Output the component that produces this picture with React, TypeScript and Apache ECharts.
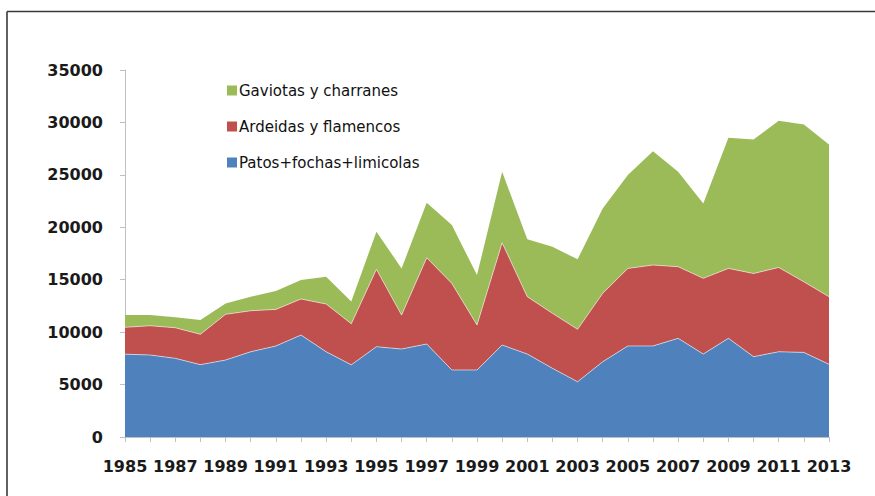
import React, { useEffect, useRef } from "react";
import * as echarts from "echarts";

const years: string[] = [];
for (let y = 1985; y <= 2013; y++) years.push(String(y));

const patos = [7900, 7820, 7500, 6900, 7340, 8130, 8680, 9720, 8130, 6880, 8610, 8390, 8870, 6390, 6390, 8770, 7910, 6550, 5270, 7180, 8680, 8680, 9410, 7910, 9410, 7660, 8130, 8070, 6930];
const ardeidas = [2560, 2790, 2920, 2890, 4360, 3910, 3490, 3440, 4550, 3920, 7380, 3240, 8220, 8260, 4290, 9750, 5470, 5240, 5000, 6520, 7400, 7720, 6830, 7220, 6670, 7930, 8040, 6730, 6450];
const gaviotas = [1170, 1020, 990, 1360, 1040, 1340, 1750, 1810, 2600, 2130, 3590, 4450, 5250, 5560, 4760, 6770, 5470, 6360, 6670, 8100, 8900, 10860, 9050, 7140, 12450, 12780, 13980, 15000, 14520];

const seriesNames = ["Patos+fochas+limicolas", "Ardeidas y flamencos", "Gaviotas y charranes"];
const colors = ["#4F81BD", "#C0504D", "#9BBB59"];

export default function App() {
  const ref = useRef<HTMLDivElement>(null);
  useEffect(() => {
    if (!ref.current) return;
    const chart = echarts.init(ref.current, undefined, { renderer: "svg" });
    const values = [patos, ardeidas, gaviotas];
    chart.setOption({
      animation: false,
      backgroundColor: "#ffffff",
      grid: { left: 125, right: 46, top: 70, bottom: 59, containLabel: false },
      legend: {
        orient: "vertical",
        left: 222,
        top: 78,
        itemGap: 21,
        itemWidth: 10,
        itemHeight: 10,
        icon: "rect",
        data: [seriesNames[2], seriesNames[1], seriesNames[0]],
        textStyle: { fontFamily: "DejaVu Sans", fontSize: 15, color: "#111111", padding: [0, 0, 0, -3] },
      },
      xAxis: {
        type: "category",
        data: years,
        boundaryGap: false,
        axisLine: { lineStyle: { color: "#bfbfbf", width: 1 } },
        axisTick: { show: true, interval: 0, length: 5, lineStyle: { color: "#bfbfbf" } },
        axisLabel: {
          interval: 1,
          margin: 21,
          fontFamily: "DejaVu Sans",
          fontWeight: "bold",
          fontSize: 16,
          color: "#1a1a1a",
        },
        splitLine: { show: false },
      },
      yAxis: {
        type: "value",
        min: 0,
        max: 35000,
        interval: 5000,
        axisLine: { show: true, lineStyle: { color: "#bfbfbf", width: 1 } },
        axisTick: { show: true, length: 5, lineStyle: { color: "#bfbfbf" } },
        axisLabel: {
          margin: 22,
          formatter: (v: number) => String(v),
          fontFamily: "DejaVu Sans",
          fontWeight: "bold",
          fontSize: 16,
          color: "#1a1a1a",
        },
        splitLine: { show: false },
      },
      series: seriesNames.map((name, i) => ({
        name,
        type: "line",
        stack: "total",
        data: values[i],
        showSymbol: false,
        symbol: "none",
        color: colors[i],
        lineStyle: i < 2 ? { width: 1, color: "rgba(255,255,255,0.55)" } : { width: 0 },
        areaStyle: { color: colors[i], opacity: 1 },
        z: 2 + (2 - i),
      })),
      graphic: [
        { type: "line", shape: { x1: 7, y1: 11.5, x2: 875, y2: 11.5 }, style: { stroke: "#3a3a3a", lineWidth: 1.6 }, z: 100 },
        { type: "line", shape: { x1: 7, y1: 11.5, x2: 7, y2: 496 }, style: { stroke: "#3a3a3a", lineWidth: 1.6 }, z: 100 },
      ],
    });
    return () => chart.dispose();
  }, []);
  return <div ref={ref} style={{ position: "fixed", left: 0, top: 0, width: 875, height: 496 }} />;
}
